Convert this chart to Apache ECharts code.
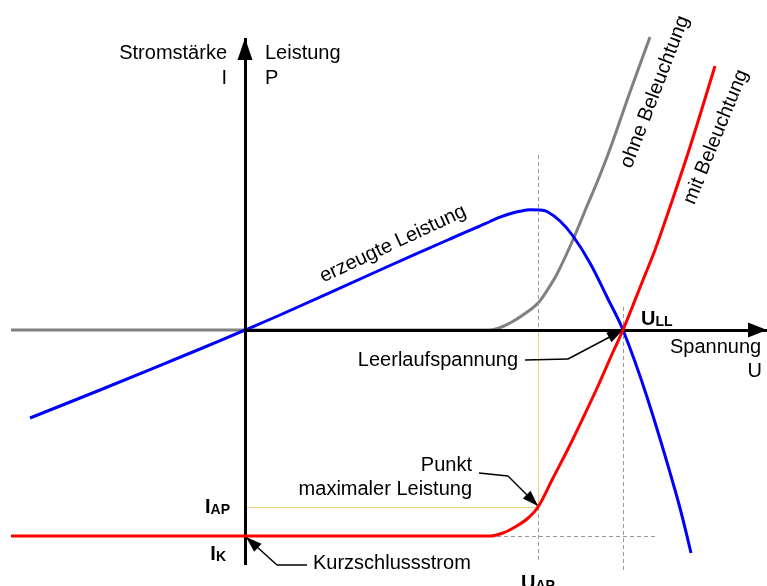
<!DOCTYPE html>
<html style="height: 100%">
<head>
<meta charset="utf-8">
<title>Kennlinie Solarzelle</title>
<script src="https://cdn.jsdelivr.net/npm/echarts@6/dist/echarts.min.js"></script>
</head>
<body style="height: 100%; margin: 0; background-color: #fff;">
<div id="container" style="width: 767px; height: 586px;"></div>
<script>
// Kennlinien; Ursprung im Achsenkreuz, U nach rechts, I bzw. P nach oben
var darkU  = [-234, 245, 265, 285, 294, 303, 312, 327, 342, 353, 365, 385, 405];
var darkI  = [0, 0, 7, 20, 28, 41, 56, 88, 124, 150, 181, 238, 293];
var lightU = [-234, 245, 258, 270, 282, 293, 308, 323, 338, 353, 368, 378, 398, 410, 425, 445, 470];
var lightI = [-206, -206, -203, -197, -189, -177, -148, -119, -88, -56, -22, 0, 50, 80, 123, 183, 264];
var powerU = [-215, -145, -45, 0, 35, 135, 205, 235, 245, 255, 265, 275, 285, 295, 302, 315, 328, 345, 362, 378, 402, 432, 446];
var powerP = [-88, -60, -19, 0, 15, 60, 91, 104, 108.5, 112.8, 116.3, 118.8, 120.2, 120, 118.5, 109, 94, 67, 33, 0, -67, -167, -223];

// markante Punkte
var uAP = 293, iAP = -177, uLL = 378, iK = -206;

function pairs(xs, ys) {
    return xs.map(function (x, i) { return [x, ys[i]]; });
}

var FONT = 'Liberation Sans, Arial, sans-serif';
var dash = { color: '#9a9a9a', width: 1, type: [4, 3] };
var gold = { color: '#f1d27a', width: 1, type: 'solid' };
var black = { color: '#000', width: 3, type: 'solid' };
var thin = { color: '#000', width: 1.5, type: 'solid' };

function seg(a, b, style) {
    return [{ coord: a, lineStyle: style, symbol: 'none' }, { coord: b, symbol: 'none' }];
}
function arrowSeg(a, b, style, size) {
    return [{ coord: a, lineStyle: style, symbol: 'none' },
            { coord: b, symbol: 'triangle', symbolSize: size, symbolOffset: [0, size[1] / 2] }];
}

function txt(text, u, i, align, rotate) {
    return { value: [u, i], label: { formatter: text, align: align || 'center', rotate: rotate || 0 } };
}
function sub(main, small, u, i, align) {
    return { value: [u, i], label: { formatter: '{m|' + main + '}{s|' + small + '}', align: align } };
}

var labels = [
    txt('Stromstärke', -18, 277, 'right'),
    txt('I', -18, 252, 'right'),
    txt('Leistung', 20, 277, 'left'),
    txt('P', 20, 252, 'left'),
    txt('Spannung', 425, -17, 'left'),
    txt('U', 517, -41, 'right'),
    txt('Leerlaufspannung', 273, -30, 'right'),
    txt('Punkt', 227, -135, 'right'),
    txt('maximaler Leistung', 227, -159, 'right'),
    txt('Kurzschlussstrom', 68, -233, 'left'),
    txt('erzeugte Leistung', 148, 86, 'center', 25),
    txt('ohne Beleuchtung', 410, 238, 'center', 69),
    txt('mit Beleuchtung', 471, 193, 'center', 68),
    sub('U', 'LL', 396, 12, 'left'),
    sub('I', 'AP', -15, iAP + 1, 'right'),
    sub('I', 'K', -19, iK - 17, 'right'),
    sub('U', 'AP', uAP, -252, 'center')
];

var dom = document.getElementById('container');
var myChart = echarts.init(dom);
var option = {
    animation: false,
    backgroundColor: '#fff',
    grid: { left: 0, right: 0, top: 0, bottom: 0 },
    xAxis: { type: 'value', min: -245, max: 522, show: false },
    yAxis: { type: 'value', min: -256, max: 330, show: false },
    series: [
        {
            // Hilfslinien
            type: 'line', data: [], z: 1, silent: true,
            markLine: {
                silent: true, animation: false, label: { show: false },
                data: [
                    seg([uAP, 175], [uAP, 0], dash),
                    seg([uAP, 0], [uAP, iAP], gold),
                    seg([uAP, iAP], [uAP, -233], dash),
                    seg([0, iAP], [uAP, iAP], gold),
                    seg([245, iK], [410, iK], dash),
                    seg([uLL, 23], [uLL, -242], dash)
                ]
            }
        },
        {
            // Achsen
            type: 'line', data: [], z: 2, silent: true,
            markLine: {
                silent: true, animation: false, label: { show: false },
                data: [
                    arrowSeg([0, 0], [522, 0], black, [15, 19]),
                    arrowSeg([0, -235], [0, 292], black, [15, 22])
                ]
            }
        },
        {
            name: 'ohne Beleuchtung', type: 'line', z: 3,
            data: pairs(darkU, darkI), showSymbol: false, smooth: 0.35,
            lineStyle: { color: '#808080', width: 3 }
        },
        {
            name: 'erzeugte Leistung', type: 'line', z: 4,
            data: pairs(powerU, powerP), showSymbol: false, smooth: 0.35,
            lineStyle: { color: '#0000ff', width: 3 }
        },
        {
            name: 'mit Beleuchtung', type: 'line', z: 5,
            data: pairs(lightU, lightI), showSymbol: false, smooth: 0.35,
            lineStyle: { color: '#ff0000', width: 3 }
        },
        {
            // Hinweispfeile
            type: 'line', data: [], z: 6, silent: true,
            markLine: {
                silent: true, animation: false, label: { show: false },
                data: [
                    seg([280, -30], [323, -29], thin),
                    arrowSeg([323, -29], [uLL, 0], thin, [11, 16]),
                    seg([234, -143], [263, -146], thin),
                    arrowSeg([263, -146], [uAP, iAP + 1], thin, [11, 16]),
                    seg([62, -235], [32, -235], thin),
                    arrowSeg([32, -235], [1, iK - 1], thin, [11, 16])
                ]
            }
        },
        {
            // Beschriftungen
            type: 'scatter', z: 7, silent: true,
            symbolSize: 1, itemStyle: { color: 'rgba(0,0,0,0)', opacity: 1 },
            data: labels,
            label: {
                show: true, position: 'inside', verticalAlign: 'middle', opacity: 1,
                color: '#000', textBorderWidth: 0, fontFamily: FONT, fontSize: 20,
                rich: {
                    m: { fontFamily: FONT, fontSize: 20, fontWeight: 'bold', color: '#000', textBorderWidth: 0, verticalAlign: 'bottom', lineHeight: 22 },
                    s: { fontFamily: FONT, fontSize: 14, fontWeight: 'bold', color: '#000', textBorderWidth: 0, verticalAlign: 'bottom', lineHeight: 22 }
                }
            }
        }
    ]
};
myChart.setOption(option);
</script>
</body>
</html>
